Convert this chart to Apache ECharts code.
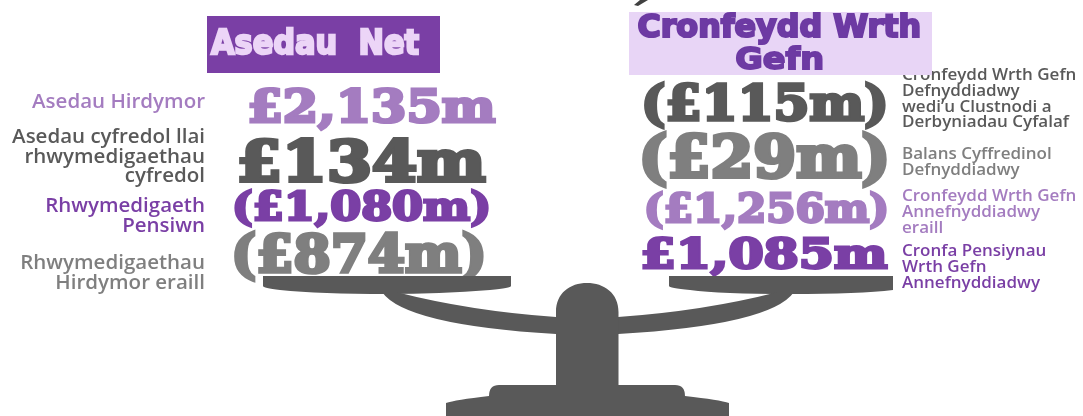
<!DOCTYPE html>
<html>
<head>
<meta charset="utf-8">
<title>Asedau Net / Cronfeydd Wrth Gefn</title>
<script src="https://cdn.jsdelivr.net/npm/echarts@6/dist/echarts.min.js"></script>
<style>
  html, body { margin: 0; padding: 0; background: #fff; }
  #chart { width: 1083px; height: 416px; filter: blur(0.35px); }
</style>
</head>
<body>
<div id="chart"></div>
<script>
const leftTitle = 'Asedau  Net';
const rightTitle = ['Cronfeydd Wrth', 'Gefn'];

// values in £m, negatives are shown in brackets
const leftValues = [2135, 134, -1080, -874];
const rightValues = [-115, -29, -1256, 1085];

const leftLabels = [
  ['Asedau Hirdymor'],
  ['Asedau cyfredol llai', 'rhwymedigaethau', 'cyfredol'],
  ['Rhwymedigaeth', 'Pensiwn'],
  ['Rhwymedigaethau', 'Hirdymor eraill']
];
const rightLabels = [
  ['Cronfeydd Wrth Gefn', 'Defnyddiadwy', 'wedi\u2019u Clustnodi a', 'Derbyniadau Cyfalaf'],
  ['Balans Cyffredinol', 'Defnyddiadwy'],
  ['Cronfeydd Wrth Gefn', 'Annefnyddiadwy', 'eraill'],
  ['Cronfa Pensiynau', 'Wrth Gefn', 'Annefnyddiadwy']
];

const DARK = '#595959';
const GREY = '#7f7f7f';
const LILAC = '#a47cc0';
const PURPLE = '#7a3fa5';
const leftColors = [LILAC, DARK, PURPLE, GREY];
const rightColors = [DARK, GREY, LILAC, PURPLE];

// ink boxes of the big figures: x0, y0, x1, y1
const leftBoxes = [[249, 87, 496, 131], [239, 137, 486, 183], [234, 189, 489, 228], [234, 232, 484, 282]];
const rightBoxes = [[644, 83, 886, 129], [642, 133, 887, 188], [646, 191, 887, 230], [642, 236, 888, 276]];
const leftLineY = [[102], [137, 157, 176], [206, 226], [263, 283]];
const rightLineY = [[75, 91, 107, 122], [154, 170], [196, 212, 228], [251, 267, 283]];

const VALUE_FONT = 'bold 40px "DejaVu Serif"';
const TITLE_FONT = 'bold 40px "DejaVu Sans"';
const LEFT_LABEL_FONT = '600 20.5px "Open Sans"';
const RIGHT_LABEL_FONT = '600 17px "Open Sans"';

// balance scale outlines
const scalePaths = [
  'M263 276 H511 V286 Q511 288 490 290 Q440 294 387 294 Q320 294 280 290 Q263 288 263 286 Z',
  'M669 276 H893 V290 Q860 294 790 294 Q720 294 690 290 Q669 288 669 286 Z',
  'M382 292 Q405 325 556 334 L556 317 Q470 311 396 292 Z',
  'M794 292 Q771 325 618 334 L618 317 Q704 311 778 292 Z',
  'M556 340 V312 C556 293 570 283 587 283 C604 283 618.5 293 618.5 312 V385 H675 Q685 385 685 396 Q720 400 729 403 V416 H446 V403 Q455 400 489 396 Q489 385 499 385 H556 Z'
];
// clipped tail of something cut off at the top edge
const strayPath = 'M640 0 H648 L638 6 L634 5 Z';

const measure = document.createElement('canvas').getContext('2d');

function formatValue(v) {
  const s = '\u00a3' + Math.abs(v).toLocaleString('en-GB') + 'm';
  return v < 0 ? '(' + s + ')' : s;
}

// squeeze a string into an ink box, zrender draws single lines with a middle baseline
function fitText(text, font, box, fill, stroke) {
  measure.font = font;
  measure.textBaseline = 'middle';
  const m = measure.measureText(text);
  const inset = stroke ? 1 : 0;
  const sx = (box[2] - box[0] - 2 * inset) / (m.actualBoundingBoxLeft + m.actualBoundingBoxRight);
  const sy = (box[3] - box[1] - 2 * inset) / (m.actualBoundingBoxAscent + m.actualBoundingBoxDescent);
  return {
    type: 'text',
    x: box[0] + inset + m.actualBoundingBoxLeft * sx,
    y: box[1] + inset + m.actualBoundingBoxAscent * sy,
    scaleX: sx,
    scaleY: sy,
    style: {
      text, font, fill,
      align: 'left',
      verticalAlign: 'middle',
      stroke: stroke ? fill : null,
      lineWidth: stroke || 0
    }
  };
}

function labelText(text, font, x, y, align, fill) {
  return {
    type: 'text',
    x, y,
    style: { text, font, fill, align, verticalAlign: 'middle' }
  };
}

const elements = [];

leftValues.forEach((v, i) => {
  elements.push(fitText(formatValue(v), VALUE_FONT, leftBoxes[i], leftColors[i], 2.8));
  leftLabels[i].forEach((line, j) => {
    elements.push(labelText(line, LEFT_LABEL_FONT, 205, leftLineY[i][j], 'right', leftColors[i]));
  });
});
rightValues.forEach((v, i) => {
  elements.push(fitText(formatValue(v), VALUE_FONT, rightBoxes[i], rightColors[i], 2.8));
  rightLabels[i].forEach((line, j) => {
    elements.push(labelText(line, RIGHT_LABEL_FONT, 902, rightLineY[i][j], 'left', rightColors[i]));
  });
});

// title blocks
elements.push({ type: 'rect', shape: { x: 207, y: 16, width: 233, height: 57 }, style: { fill: PURPLE } });
elements.push(fitText(leftTitle, TITLE_FONT, [210, 27, 420, 56], '#ecd5f7', 2.8));
elements.push({ type: 'rect', shape: { x: 629, y: 12, width: 303, height: 63 }, style: { fill: '#e8d5f6' } });
elements.push(fitText(rightTitle[0], TITLE_FONT, [638, 11, 920, 45], '#6d3aa3', 2.8));
elements.push(fitText(rightTitle[1], TITLE_FONT, [736, 45, 823, 71], '#6d3aa3', 2.4));

const chart = echarts.init(document.getElementById('chart'));
chart.setOption({
  backgroundColor: '#ffffff',
  animation: false,
  graphic: { elements },
  series: [{
    type: 'custom',
    coordinateSystem: 'none',
    silent: true,
    z: 10,
    data: [0],
    renderItem: () => ({
      type: 'group',
      children: scalePaths
        .map((pathData) => ({ type: 'path', shape: { pathData }, style: { fill: DARK } }))
        .concat({ type: 'path', shape: { pathData: strayPath }, style: { fill: '#404040' } })
    })
  }]
});
</script>
</body>
</html>
